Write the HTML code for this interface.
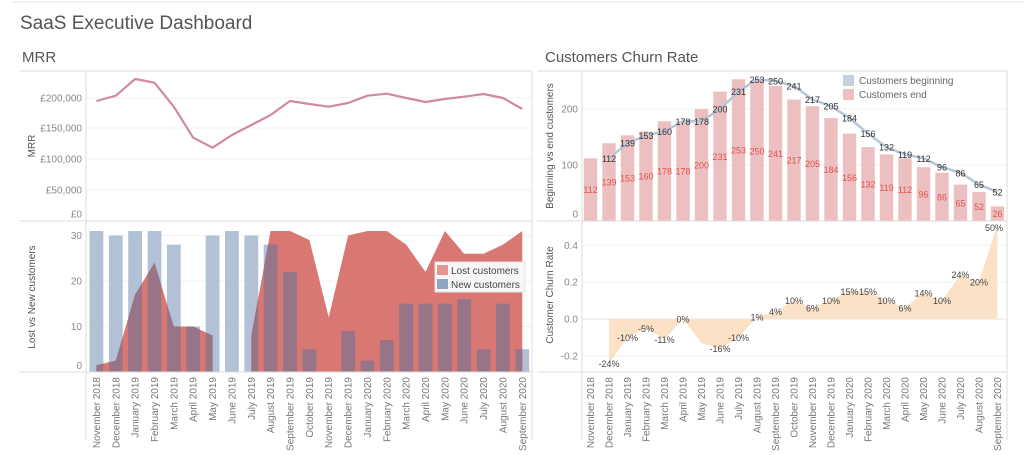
<!DOCTYPE html>
<html><head><meta charset="utf-8"><style>
html,body{margin:0;padding:0;background:#fff;}
svg{display:block;font-family:"Liberation Sans",sans-serif;}
.t{fill:#888;font-size:10px;}
.xl{fill:#777;font-size:10px;}
.rl{fill:#e0524f;font-size:9px;text-anchor:middle;}
.bl{fill:#333;font-size:9px;text-anchor:middle;}
.cl{fill:#444;font-size:9px;text-anchor:middle;}
</style></head><body>
<svg width="1024" height="455" viewBox="0 0 1024 455">
<defs>
<clipPath id="lostclip">
<path d="M96.4,372 L96.4,365.2 L115.8,360.6 L135.1,294.6 L154.5,262.8 L173.8,326.5 L193.2,326.5 L212.6,335.6 L212.6,372 Z M251.3,372 L251.3,335.6 L270.6,231 L290,231 L309.4,240 L328.7,317.4 L348.1,235.5 L367.4,231 L386.8,231 L406.2,244.6 L425.5,271.9 L444.9,231 L464.2,253.7 L483.6,253.7 L503,244.6 L522.3,231 L522.3,372 Z"/>
</clipPath>
<g id="bars">
<rect x="89.5" y="231" width="13.8" height="141"/>
<rect x="108.9" y="235.5" width="13.8" height="136.5"/>
<rect x="128.2" y="231" width="13.8" height="141"/>
<rect x="147.6" y="231" width="13.8" height="141"/>
<rect x="166.9" y="244.6" width="13.8" height="127.4"/>
<rect x="186.3" y="326.5" width="13.8" height="45.5"/>
<rect x="205.7" y="235.5" width="13.8" height="136.5"/>
<rect x="225" y="231" width="13.8" height="141"/>
<rect x="244.4" y="235.5" width="13.8" height="136.5"/>
<rect x="263.7" y="244.6" width="13.8" height="127.4"/>
<rect x="283.1" y="271.9" width="13.8" height="100.1"/>
<rect x="302.5" y="349.2" width="13.8" height="22.8"/>
<rect x="341.2" y="331" width="13.8" height="41"/>
<rect x="360.5" y="360.6" width="13.8" height="11.4"/>
<rect x="379.9" y="340.2" width="13.8" height="31.8"/>
<rect x="399.3" y="303.7" width="13.8" height="68.3"/>
<rect x="418.6" y="303.7" width="13.8" height="68.3"/>
<rect x="438" y="303.7" width="13.8" height="68.3"/>
<rect x="457.3" y="299.2" width="13.8" height="72.8"/>
<rect x="476.7" y="349.2" width="13.8" height="22.8"/>
<rect x="496.1" y="303.7" width="13.8" height="68.3"/>
<rect x="515.4" y="349.2" width="13.8" height="22.8"/>
</g>
</defs>

<line x1="12" y1="2" x2="1024" y2="2" stroke="#e6e6e6"/>
<text x="20" y="29" font-size="19" fill="#555">SaaS Executive Dashboard</text>
<text x="22" y="62" font-size="15" fill="#555">MRR</text>
<text x="545" y="62" font-size="15" fill="#555">Customers Churn Rate</text>

<!-- LEFT grid -->
<g stroke="#f2f2f2">
<line x1="86" y1="98" x2="532" y2="98"/><line x1="86" y1="128" x2="532" y2="128"/>
<line x1="86" y1="159" x2="532" y2="159"/><line x1="86" y1="190" x2="532" y2="190"/>
<line x1="86" y1="235.5" x2="532" y2="235.5"/><line x1="86" y1="281" x2="532" y2="281"/><line x1="86" y1="326.5" x2="532" y2="326.5"/>
</g>
<g class="t" text-anchor="end">
<text x="82" y="101.5">£200,000</text><text x="82" y="131.5">£150,000</text>
<text x="82" y="162.5">£100,000</text><text x="82" y="193.5">£50,000</text><text x="82" y="217.5">£0</text>
<text x="82" y="239">30</text><text x="82" y="284.5">20</text><text x="82" y="330">10</text><text x="82" y="369">0</text>
</g>
<text transform="translate(35,146) rotate(-90)" font-size="10" fill="#555" text-anchor="middle">MRR</text>
<text transform="translate(35,297) rotate(-90)" font-size="10" fill="#555" text-anchor="middle">Lost vs New customers</text>

<polyline fill="none" stroke="#d08a9f" stroke-width="2.2" stroke-linejoin="round" points="96.4,101 115.8,95.7 135.1,79 154.5,82.7 173.8,106.7 193.2,137.7 212.6,147.7 231.9,135 251.3,125 270.6,115 290,101 309.4,104 328.7,106.7 348.1,103 367.4,95.7 386.8,93.7 406.2,98 425.5,102 444.9,99 464.2,96.7 483.6,94 503,98 522.3,109"/>

<use href="#bars" fill="#b2c1d6"/>
<path fill="#d97873" d="M96.4,372 L96.4,365.2 L115.8,360.6 L135.1,294.6 L154.5,262.8 L173.8,326.5 L193.2,326.5 L212.6,335.6 L212.6,372 Z M251.3,372 L251.3,335.6 L270.6,231 L290,231 L309.4,240 L328.7,317.4 L348.1,235.5 L367.4,231 L386.8,231 L406.2,244.6 L425.5,271.9 L444.9,231 L464.2,253.7 L483.6,253.7 L503,244.6 L522.3,231 L522.3,372 Z"/>
<use href="#bars" fill="#977487" clip-path="url(#lostclip)"/>

<rect x="435" y="262" width="90" height="30" fill="#f7f7f7" stroke="#e4e4e4"/>
<rect x="437" y="265" width="11" height="10" fill="#e39592"/>
<rect x="437" y="279" width="11" height="10" fill="#8fa5c5"/>
<text x="451" y="274" font-size="10" fill="#444">Lost customers</text>
<text x="451" y="288" font-size="10" fill="#444">New customers</text>

<g stroke="#dcdcdc">
<line x1="20" y1="71" x2="532" y2="71"/><line x1="20" y1="221" x2="532" y2="221"/><line x1="20" y1="372" x2="532" y2="372"/>
<line x1="86" y1="71" x2="86" y2="440"/><line x1="532" y1="71" x2="532" y2="440"/>
</g>

<g class="xl" text-anchor="end">
<text transform="translate(99.9,377) rotate(-90)">November 2018</text>
<text transform="translate(119.3,377) rotate(-90)">December 2018</text>
<text transform="translate(138.6,377) rotate(-90)">January 2019</text>
<text transform="translate(158,377) rotate(-90)">February 2019</text>
<text transform="translate(177.3,377) rotate(-90)">March 2019</text>
<text transform="translate(196.7,377) rotate(-90)">April 2019</text>
<text transform="translate(216.1,377) rotate(-90)">May 2019</text>
<text transform="translate(235.4,377) rotate(-90)">June 2019</text>
<text transform="translate(254.8,377) rotate(-90)">July 2019</text>
<text transform="translate(274.1,377) rotate(-90)">August 2019</text>
<text transform="translate(293.5,377) rotate(-90)">September 2019</text>
<text transform="translate(312.9,377) rotate(-90)">October 2019</text>
<text transform="translate(332.2,377) rotate(-90)">November 2019</text>
<text transform="translate(351.6,377) rotate(-90)">December 2019</text>
<text transform="translate(370.9,377) rotate(-90)">January 2020</text>
<text transform="translate(390.3,377) rotate(-90)">February 2020</text>
<text transform="translate(409.7,377) rotate(-90)">March 2020</text>
<text transform="translate(429,377) rotate(-90)">April 2020</text>
<text transform="translate(448.4,377) rotate(-90)">May 2020</text>
<text transform="translate(467.7,377) rotate(-90)">June 2020</text>
<text transform="translate(487.1,377) rotate(-90)">July 2020</text>
<text transform="translate(506.5,377) rotate(-90)">August 2020</text>
<text transform="translate(525.8,377) rotate(-90)">September 2020</text>
</g>

<!-- RIGHT -->
<g stroke="#f2f2f2">
<line x1="582" y1="109" x2="1007" y2="109"/><line x1="582" y1="165" x2="1007" y2="165"/>
<line x1="582" y1="245" x2="1007" y2="245"/><line x1="582" y1="282" x2="1007" y2="282"/><line x1="582" y1="356" x2="1007" y2="356"/>
</g>
<line x1="582" y1="319" x2="1007" y2="319" stroke="#e6e6e6"/>
<g class="t" text-anchor="end">
<text x="578" y="112.5">200</text><text x="578" y="168.5">100</text><text x="578" y="217.5">0</text>
<text x="578" y="249">0.4</text><text x="578" y="285.5">0.2</text><text x="578" y="322.5">0.0</text><text x="578" y="359.5">-0.2</text>
</g>
<text transform="translate(553,146) rotate(-90)" font-size="10" fill="#555" text-anchor="middle">Beginning vs end customers</text>
<text transform="translate(553,295) rotate(-90)" font-size="10" fill="#555" text-anchor="middle">Customer Churn Rate</text>

<g fill="#ecc0c0">
<rect x="583.8" y="158.3" width="13.4" height="62.7"/>
<rect x="602.3" y="143.2" width="13.4" height="77.8"/>
<rect x="620.8" y="135.3" width="13.4" height="85.7"/>
<rect x="639.3" y="131.4" width="13.4" height="89.6"/>
<rect x="657.8" y="121.3" width="13.4" height="99.7"/>
<rect x="676.3" y="121.3" width="13.4" height="99.7"/>
<rect x="694.8" y="109" width="13.4" height="112"/>
<rect x="713.3" y="91.6" width="13.4" height="129.4"/>
<rect x="731.8" y="79.3" width="13.4" height="141.7"/>
<rect x="750.3" y="81" width="13.4" height="140"/>
<rect x="768.8" y="86" width="13.4" height="135"/>
<rect x="787.3" y="99.5" width="13.4" height="121.5"/>
<rect x="805.8" y="106.2" width="13.4" height="114.8"/>
<rect x="824.3" y="118" width="13.4" height="103"/>
<rect x="842.8" y="133.6" width="13.4" height="87.4"/>
<rect x="861.3" y="147.1" width="13.4" height="73.9"/>
<rect x="879.8" y="154.4" width="13.4" height="66.6"/>
<rect x="898.3" y="158.3" width="13.4" height="62.7"/>
<rect x="916.8" y="167.2" width="13.4" height="53.8"/>
<rect x="935.3" y="172.8" width="13.4" height="48.2"/>
<rect x="953.8" y="184.6" width="13.4" height="36.4"/>
<rect x="972.3" y="191.9" width="13.4" height="29.1"/>
<rect x="990.8" y="206.4" width="13.4" height="14.6"/>
</g>
<polyline fill="none" stroke="#b7c5d8" stroke-width="2.5" stroke-linejoin="round" points="609,158.3 627.5,143.2 646,135.3 664.5,131.4 683,121.3 701.5,121.3 720,109 738.5,91.6 757,79.3 775.5,81 794,86 812.5,99.5 831,106.2 849.5,118 868,133.6 886.5,147.1 905,154.4 923.5,158.3 942,167.2 960.5,172.8 979,184.6 997.5,191.9"/>
<g class="rl">
<text x="590.5" y="193">112</text><text x="609" y="185.6">139</text><text x="627.5" y="181.6">153</text><text x="646" y="179.7">160</text>
<text x="664.5" y="174.6">178</text><text x="683" y="174.6">178</text><text x="701.5" y="168.5">200</text><text x="720" y="159.8">231</text>
<text x="738.5" y="153.6">253</text><text x="757" y="154.5">250</text><text x="775.5" y="157">241</text><text x="794" y="163.7">217</text>
<text x="812.5" y="167.1">205</text><text x="831" y="173">184</text><text x="849.5" y="180.8">156</text><text x="868" y="187.5">132</text>
<text x="886.5" y="191.2">119</text><text x="905" y="193.1">112</text><text x="923.5" y="197.6">96</text><text x="942" y="200.4">86</text>
<text x="960.5" y="206.3">65</text><text x="979" y="209.9">52</text><text x="997.5" y="217.2">26</text>
</g>
<g class="bl">
<text x="609" y="161.8">112</text><text x="627.5" y="146.7">139</text><text x="646" y="138.8">153</text><text x="664.5" y="134.9">160</text>
<text x="683" y="124.8">178</text><text x="701.5" y="124.8">178</text><text x="720" y="112.5">200</text><text x="738.5" y="95.1">231</text>
<text x="757" y="82.8">253</text><text x="775.5" y="84.5">250</text><text x="794" y="89.5">241</text><text x="812.5" y="103">217</text>
<text x="831" y="109.7">205</text><text x="849.5" y="121.5">184</text><text x="868" y="137.1">156</text><text x="886.5" y="150.6">132</text>
<text x="905" y="157.9">119</text><text x="923.5" y="161.8">112</text><text x="942" y="170.7">96</text><text x="960.5" y="176.3">86</text>
<text x="979" y="188.1">65</text><text x="997.5" y="195.4">52</text>
</g>
<rect x="843" y="75" width="11" height="11" fill="#c5d1e0"/>
<rect x="843" y="89" width="11" height="11" fill="#ecc0c0"/>
<text x="859" y="84" font-size="10" fill="#666">Customers beginning</text>
<text x="859" y="98" font-size="10" fill="#666">Customers end</text>

<path fill="#fbe2c7" d="M609,319 L609,363.4 L627.5,337.5 L646,328.3 L664.5,339.4 L683,319 L701.5,343 L720,348.6 L738.5,337.5 L757,317.2 L775.5,311.6 L794,300.5 L812.5,307.9 L831,300.5 L849.5,291.3 L868,291.3 L886.5,300.5 L905,307.9 L923.5,293.1 L942,300.5 L960.5,274.6 L979,282 L997.5,224 L997.5,319 Z"/>
<g class="cl">
<text x="609" y="366.9">-24%</text><text x="627.5" y="341">-10%</text><text x="646" y="331.8">-5%</text><text x="664.5" y="342.9">-11%</text>
<text x="683" y="322.5">0%</text><text x="720" y="352.1">-16%</text><text x="738.5" y="341">-10%</text>
<text x="757" y="320.7">1%</text><text x="775.5" y="315.1">4%</text><text x="794" y="304">10%</text><text x="812.5" y="311.4">6%</text>
<text x="831" y="304">10%</text><text x="849.5" y="294.8">15%</text><text x="868" y="294.8">15%</text><text x="886.5" y="304">10%</text>
<text x="905" y="311.4">6%</text><text x="923.5" y="296.6">14%</text><text x="942" y="304">10%</text><text x="960.5" y="278.1">24%</text>
<text x="979" y="285.5">20%</text><text x="994" y="231">50%</text>
</g>

<g stroke="#dcdcdc">
<line x1="537" y1="71" x2="1007" y2="71"/><line x1="537" y1="221" x2="1007" y2="221"/><line x1="537" y1="372" x2="1007" y2="372"/>
<line x1="582" y1="71" x2="582" y2="440"/><line x1="1007" y1="71" x2="1007" y2="440"/>
</g>

<g class="xl" text-anchor="end">
<text transform="translate(594,377) rotate(-90)">November 2018</text>
<text transform="translate(612.5,377) rotate(-90)">December 2018</text>
<text transform="translate(631,377) rotate(-90)">January 2019</text>
<text transform="translate(649.5,377) rotate(-90)">February 2019</text>
<text transform="translate(668,377) rotate(-90)">March 2019</text>
<text transform="translate(686.5,377) rotate(-90)">April 2019</text>
<text transform="translate(705,377) rotate(-90)">May 2019</text>
<text transform="translate(723.5,377) rotate(-90)">June 2019</text>
<text transform="translate(742,377) rotate(-90)">July 2019</text>
<text transform="translate(760.5,377) rotate(-90)">August 2019</text>
<text transform="translate(779,377) rotate(-90)">September 2019</text>
<text transform="translate(797.5,377) rotate(-90)">October 2019</text>
<text transform="translate(816,377) rotate(-90)">November 2019</text>
<text transform="translate(834.5,377) rotate(-90)">December 2019</text>
<text transform="translate(853,377) rotate(-90)">January 2020</text>
<text transform="translate(871.5,377) rotate(-90)">February 2020</text>
<text transform="translate(890,377) rotate(-90)">March 2020</text>
<text transform="translate(908.5,377) rotate(-90)">April 2020</text>
<text transform="translate(927,377) rotate(-90)">May 2020</text>
<text transform="translate(945.5,377) rotate(-90)">June 2020</text>
<text transform="translate(964,377) rotate(-90)">July 2020</text>
<text transform="translate(982.5,377) rotate(-90)">August 2020</text>
<text transform="translate(1001,377) rotate(-90)">September 2020</text>
</g>
</svg>
</body></html>
